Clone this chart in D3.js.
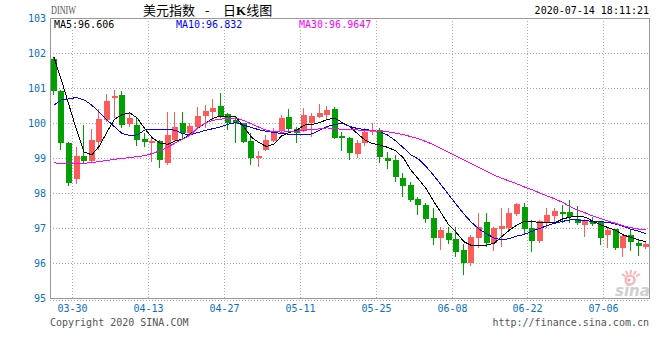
<!DOCTYPE html>
<html><head><meta charset="utf-8">
<script src="https://cdn.jsdelivr.net/npm/d3@7/dist/d3.min.js"></script>
<style>body{margin:0;background:#fff;}svg{display:block;}</style>
</head><body>
<svg id="chart" width="660" height="360"></svg>
<script>
// ---------- data ----------
const dates = ["03-25","03-26","03-27","03-30","03-31","04-01","04-02","04-03","04-06","04-07",
"04-08","04-09","04-10","04-13","04-14","04-15","04-16","04-17","04-20","04-21",
"04-22","04-23","04-24","04-27","04-28","04-29","04-30","05-01","05-04","05-05",
"05-06","05-07","05-08","05-11","05-12","05-13","05-14","05-15","05-18","05-19",
"05-20","05-21","05-22","05-25","05-26","05-27","05-28","05-29","06-01","06-02",
"06-03","06-04","06-05","06-08","06-09","06-10","06-11","06-12","06-15","06-16",
"06-17","06-18","06-19","06-22","06-23","06-24","06-25","06-26","06-29","06-30",
"07-01","07-02","07-03","07-06","07-07","07-08","07-09","07-10","07-13"];
const opens = [101.83,100.92,99.44,98.39,99.06,98.92,99.47,100.09,100.71,100.80,
99.96,99.95,99.54,99.42,99.49,98.86,99.51,100.00,99.72,99.89,
100.21,100.31,100.49,100.25,100.09,99.99,99.49,99.01,99.23,99.49,
99.77,100.18,99.82,99.77,99.99,100.18,100.23,100.40,99.63,99.58,
99.11,99.42,99.75,99.80,99.01,98.94,98.44,98.23,97.83,97.66,
97.28,96.72,96.85,96.69,96.37,96.01,96.71,97.18,96.56,96.96,
96.99,97.40,97.61,97.01,96.64,97.13,97.35,97.47,97.47,97.25,
97.09,97.21,97.18,96.80,96.96,96.42,96.80,96.58,96.47];
const highs = [101.86,100.95,99.46,99.31,99.94,99.82,100.40,100.82,100.94,100.90,
100.28,100.18,99.71,99.61,99.51,100.32,100.32,100.32,99.99,100.47,
100.51,100.69,100.87,100.28,100.18,100.00,99.71,99.20,99.66,99.85,
100.23,100.39,99.89,100.42,100.28,100.54,100.49,100.47,99.75,99.60,
99.51,99.87,99.99,99.86,99.18,99.09,98.56,98.32,97.89,97.71,
97.56,97.02,97.02,97.04,96.55,96.80,97.44,97.42,97.04,97.56,
97.56,97.71,97.72,97.23,97.23,97.56,97.56,97.66,97.80,97.63,
97.25,97.31,97.18,97.04,96.98,96.80,96.96,96.66,96.60];
const lows = [100.80,99.23,98.21,98.26,98.85,98.85,99.23,100.04,100.15,99.85,
99.88,99.34,99.32,98.89,98.71,98.80,99.45,99.55,99.66,99.85,
99.85,100.09,100.14,99.80,99.42,99.42,98.80,98.75,99.20,99.45,
99.75,99.71,99.44,99.75,99.61,100.15,100.09,99.54,99.20,98.94,
99.01,99.35,99.66,98.87,98.69,98.32,97.89,97.75,97.37,97.15,
96.51,96.37,96.54,96.18,95.66,95.91,96.42,96.47,96.35,96.47,
96.94,97.35,96.80,96.32,96.57,96.99,97.14,97.15,97.13,97.10,
96.75,97.06,96.51,96.42,96.37,96.18,96.35,96.20,96.40];
const closes = [100.92,99.44,98.29,99.06,98.92,99.51,100.11,100.63,100.77,99.94,
100.13,99.51,99.45,99.49,98.94,99.66,99.89,99.70,99.91,100.20,
100.34,100.44,100.16,99.99,100.00,99.47,99.01,99.06,99.51,99.71,
100.15,99.82,99.72,100.23,100.20,100.28,100.37,99.56,99.58,99.15,
99.44,99.75,99.80,99.04,98.92,98.45,98.21,97.80,97.66,97.26,
96.72,96.94,96.66,96.31,96.01,96.73,97.04,96.58,96.99,97.07,
97.44,97.68,96.96,96.63,97.21,97.37,97.49,97.40,97.32,97.13,
97.23,97.11,96.72,96.94,96.44,96.77,96.61,96.49,96.53];
const ma5 = [101.89,101.23,100.51,99.80,99.17,99.09,99.34,99.74,100.11,100.24,
100.29,100.14,99.83,99.57,99.43,99.39,99.49,99.54,99.69,99.86,
100.00,100.14,100.20,100.20,100.17,99.89,99.60,99.44,99.33,99.40,
99.63,99.73,99.80,99.94,99.96,100.01,100.10,100.14,100.01,99.90,
99.69,99.51,99.41,99.37,99.30,99.21,99.01,98.66,98.40,98.13,
97.77,97.43,97.09,96.87,96.61,96.50,96.50,96.51,96.57,96.76,
96.94,97.09,97.20,97.18,97.16,97.15,97.15,97.26,97.31,97.34,
97.31,97.19,97.09,97.01,96.93,96.80,96.73,96.66,96.606];
const ma10 = [100.51,100.66,100.69,100.73,100.66,100.51,100.31,100.09,99.89,99.70,
99.64,99.66,99.80,99.82,99.82,99.82,99.79,99.69,99.67,99.73,
99.79,99.84,99.89,99.97,100.01,99.94,99.87,99.81,99.76,99.73,
99.70,99.68,99.66,99.66,99.69,99.79,99.90,99.96,99.99,99.90,
99.84,99.81,99.79,99.75,99.65,99.49,99.30,99.09,98.97,98.76,
98.51,98.23,97.95,97.67,97.40,97.16,96.97,96.83,96.71,96.66,
96.70,96.77,96.82,96.91,96.99,97.07,97.14,97.19,97.23,97.23,
97.21,97.19,97.18,97.16,97.11,97.05,96.96,96.91,96.832];
const ma30 = [98.86,98.85,98.83,98.83,98.85,98.87,98.90,98.93,98.96,98.99,
99.01,99.04,99.07,99.13,99.21,99.31,99.43,99.54,99.66,99.87,
100.00,100.08,100.11,100.14,100.14,100.07,99.98,99.88,99.79,99.75,
99.74,99.75,99.77,99.79,99.82,99.83,99.86,99.84,99.82,99.81,
99.80,99.79,99.78,99.76,99.75,99.71,99.67,99.61,99.55,99.47,
99.38,99.27,99.16,99.05,98.94,98.84,98.73,98.62,98.51,98.42,
98.34,98.26,98.17,98.09,98.00,97.91,97.83,97.73,97.61,97.51,
97.43,97.34,97.27,97.20,97.13,97.06,97.01,96.97,96.9647];
const yTicks = [95,96,97,98,99,100,101,102,103];
const xTickLabels = ["03-30","04-13","04-27","05-11","05-25","06-08","06-22","07-06"];
const maNames = ["MA5","MA10","MA30"];
const maLatest = ["96.606","96.832","96.9647"];

// ---------- drawing ----------
const svg = d3.select("#chart");
const L = 50, R = 650, T = 18, B = 298;
const mono = "'DejaVu Sans Mono', 'Liberation Mono', monospace";
const cjk = "'Noto Sans CJK SC', sans-serif";
const blue = "#0a6fc6";
const upColor = "#ff5b5b", downColor = "#00a000";
const maColors = ["#000000", "#0000ff", "#ff00ff"];

const x = d3.scaleBand().domain(dates).range([L, R]).paddingInner(0.2).paddingOuter(0.1);
const y = d3.scaleLinear().domain([95, 103]).range([B, T]);
const slotEdge = d => x(d) - x.step() * x.paddingInner() / 2;
const bw = Math.round(x.bandwidth());

// gridlines
const grid = svg.append("g").attr("stroke", "#aaa").attr("stroke-dasharray", "1,2").attr("shape-rendering", "crispEdges");
yTicks.filter(v => v > 95 && v < 103).forEach(v => {
  const yy = Math.round(y(v)) + 0.5;
  grid.append("line").attr("x1", L).attr("x2", R).attr("y1", yy).attr("y2", yy);
});
xTickLabels.forEach(d => {
  const xx = Math.round(slotEdge(d)) - 0.5;
  grid.append("line").attr("x1", xx).attr("x2", xx).attr("y1", T).attr("y2", B);
});
svg.append("line").attr("x1", L).attr("x2", R).attr("y1", B + 2.5).attr("y2", B + 2.5)
  .attr("stroke", "#aaa").attr("stroke-dasharray", "1,2").attr("shape-rendering", "crispEdges");

// watermark
const wm = svg.append("g");
wm.append("circle").attr("cx", 630).attr("cy", 280).attr("r", 4.5).attr("fill", "none").attr("stroke", "#f6b9b9").attr("stroke-width", 2.5);
wm.append("circle").attr("cx", 629).attr("cy", 280).attr("r", 1.6).attr("fill", "#e8a0a0");
[[-8,-6],[-4,-9],[1,-10],[6,-9],[10,-6]].forEach(([dx,dy]) => {
  wm.append("line").attr("x1", 630 + dx * 0.6).attr("y1", 280 + dy * 0.6).attr("x2", 630 + dx).attr("y2", 280 + dy)
    .attr("stroke", "#f6b9b9").attr("stroke-width", 2);
});
wm.append("text").attr("x", 615).attr("y", 296).text("sina")
  .attr("font-family", "'DejaVu Sans', sans-serif").attr("font-size", 15).attr("font-weight", "bold")
  .attr("font-style", "italic").attr("fill", "#cfcfcf");

// candles
const cg = svg.append("g").attr("shape-rendering", "crispEdges");
dates.forEach((d, i) => {
  const o = opens[i], c = closes[i], h = highs[i], l = lows[i];
  const col = c >= o ? upColor : downColor;
  const x0 = Math.round(x(d));
  const yh = Math.round(y(h)), yl = Math.round(y(l));
  cg.append("rect").attr("x", x0 + 2).attr("y", yh).attr("width", 1).attr("height", Math.max(1, yl - yh)).attr("fill", col);
  const yt = Math.round(y(Math.max(o, c))), yb = Math.round(y(Math.min(o, c)));
  cg.append("rect").attr("x", x0).attr("y", yt).attr("width", bw).attr("height", Math.max(1, yb - yt)).attr("fill", col);
});

// MA lines
[ma5, ma10, ma30].forEach((arr, k) => {
  const line = d3.line().x((v, i) => x(dates[i]) + x.bandwidth() / 2).y(v => y(v));
  svg.append("path").attr("d", line(arr)).attr("fill", "none").attr("stroke", maColors[k])
    .attr("stroke-width", 1).attr("shape-rendering", "crispEdges");
});

// frame
svg.append("rect").attr("x", L + 0.5).attr("y", T + 0.5).attr("width", R - L - 1).attr("height", B - T)
  .attr("fill", "none").attr("stroke", "#999").attr("shape-rendering", "crispEdges");

// legend
const legX = [54, 176, 299];
maNames.forEach((n, k) => {
  const t = svg.append("text").attr("x", legX[k]).attr("y", 28).text(n + ":" + maLatest[k])
    .attr("font-family", mono).attr("font-size", 10).attr("fill", maColors[k]);
  const bb = t.node().getBBox();
  svg.insert("rect", () => t.node()).attr("x", bb.x - 1).attr("y", 20).attr("width", bb.width + 2).attr("height", 9).attr("fill", "#fff");
});

// y axis labels
yTicks.forEach(v => {
  svg.append("text").attr("x", 46).attr("y", Math.round(y(v)) + 3.5).attr("text-anchor", "end")
    .text(v).attr("font-family", mono).attr("font-size", 10).attr("fill", blue);
});
// x axis labels
xTickLabels.forEach(d => {
  svg.append("text").attr("x", Math.round(slotEdge(d)) - 0.5).attr("y", 312).attr("text-anchor", "middle")
    .text(d).attr("font-family", mono).attr("font-size", 10).attr("fill", blue);
});

// header
svg.append("text").attr("x", 51).attr("y", 14).text("DINIW").attr("font-family", "'Liberation Serif', serif")
  .attr("font-size", 12).attr("fill", "#555").attr("textLength", 25).attr("lengthAdjust", "spacingAndGlyphs");
const title = svg.append("text").attr("y", 14.5).attr("font-family", cjk).attr("font-size", 13).attr("fill", "#000");
title.append("tspan").attr("x", 143).text("美元指数");
title.append("tspan").attr("x", 205).text("-");
title.append("tspan").attr("x", 223).text("日");
title.append("tspan").attr("font-family", "'Liberation Serif', serif").attr("font-weight", "bold").text("K");
title.append("tspan").text("线图");
svg.append("text").attr("x", 649).attr("y", 14).attr("text-anchor", "end").text("2020-07-14 18:11:21")
  .attr("font-family", mono).attr("font-size", 10).attr("fill", "#000");

// footer
svg.append("text").attr("x", 50).attr("y", 326).text("Copyright 2020 SINA.COM")
  .attr("font-family", mono).attr("font-size", 10).attr("fill", "#555");
svg.append("text").attr("x", 649).attr("y", 326).attr("text-anchor", "end").text("http://finance.sina.com.cn")
  .attr("font-family", mono).attr("font-size", 10).attr("fill", "#555");
</script>
</body></html>
